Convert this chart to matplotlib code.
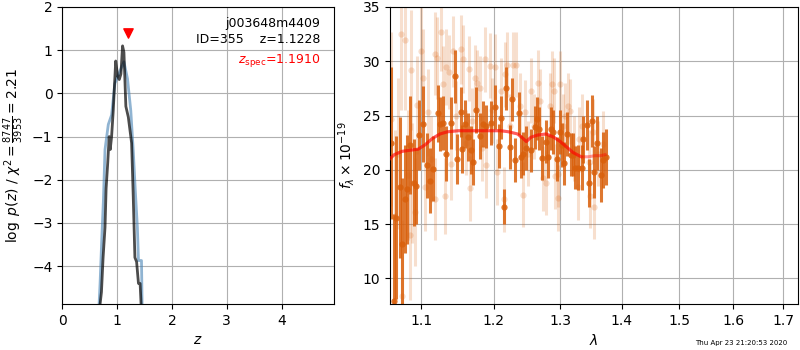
import numpy as np
import matplotlib
matplotlib.use("Agg")
import matplotlib.pyplot as plt
from matplotlib.ticker import NullLocator, FixedLocator, FixedFormatter

# redshift probability curves
z_fine = [0.65, 0.69, 0.715, 0.745, 0.78, 0.80, 0.83, 0.856, 0.875, 0.90, 0.93, 0.975,
          1.01, 1.04, 1.07, 1.10, 1.125, 1.16, 1.205, 1.265, 1.295, 1.325, 1.356,
          1.39, 1.42, 1.44, 1.46]
logp_fine = [-6.0, -4.88, -4.6, -3.8, -3.1, -2.2, -1.6, -1.0, -1.3, -1.0, -0.4, 0.75,
             0.40, 0.32, 0.45, 1.10, 0.95, -0.30, -0.55, -1.15, -2.4, -3.8, -3.9,
             -4.4, -4.4, -4.95, -6.0]
z_coarse = [0.66, 0.69, 0.72, 0.75, 0.78, 0.84, 0.90, 0.96, 1.02, 1.08, 1.125, 1.19,
            1.25, 1.295, 1.33, 1.37, 1.39, 1.445, 1.46]
logp_coarse = [-5.2, -4.4, -3.4, -2.5, -1.3, -0.72, -0.5, 0.23, 0.42, 0.60, 0.73, 0.34,
               -0.40, -1.33, -2.2, -3.1, -3.87, -3.87, -5.2]

obj_root = "j003648m4409"
obj_id = 355
z_best = 1.1228
z_spec = 1.1910
chi2_num, chi2_den = 8747, 3953

# 1D spectrum, first set
wave_a = [1.0607, 1.0645, 1.0675, 1.0718, 1.0748, 1.0791, 1.0817, 1.0852, 1.0904, 1.0934,
          1.0965, 1.1022, 1.1079, 1.1116, 1.1156, 1.1223, 1.1254, 1.1291, 1.1335, 1.1403,
          1.1451, 1.1486, 1.1533, 1.1558, 1.1597, 1.1635, 1.1673, 1.1705, 1.1752, 1.1800,
          1.1847, 1.1894, 1.1966, 1.2024, 1.2073, 1.2111, 1.2150, 1.2183, 1.2234, 1.2268,
          1.2317, 1.2366, 1.2396, 1.2431, 1.2476, 1.2556, 1.2607, 1.2637, 1.2672, 1.2723,
          1.2775, 1.2815, 1.2857, 1.2892, 1.2945, 1.2997, 1.3033, 1.3064, 1.3102, 1.3169,
          1.3201, 1.3233, 1.3286, 1.3340, 1.3366, 1.3420, 1.3457, 1.3511, 1.3544, 1.3593,
          1.3649, 1.3692, 1.3731]
flux_a = [22.5, 7.9, 15.6, 18.4, 13.2, 17.3, 18.2, 22.3, 18.8, 18.5,
          23.2, 24.2, 20.4, 19.0, 20.1, 25.2, 24.2, 24.3, 21.5, 24.3,
          28.6, 21.0, 25.3, 21.9, 24.2, 23.0, 21.8, 20.7, 25.5, 23.1,
          24.2, 24.0, 24.3, 25.8, 22.2, 24.8, 16.6, 27.5, 22.1, 26.5,
          20.9, 25.2, 21.2, 21.5, 22.0, 21.8, 23.9, 24.7, 23.8, 21.1,
          22.6, 21.2, 23.8, 23.5, 21.0, 23.5, 22.3, 20.6, 23.3, 21.4,
          21.4, 20.2, 20.2, 20.2, 22.8, 24.1, 18.8, 24.5, 19.8, 22.5,
          19.5, 20.9, 21.2]
err_a = [7.0, 8.0, 7.5, 6.5, 6.0, 5.0, 5.0, 4.5, 4.0, 3.5,
         3.2, 3.5, 3.0, 3.0, 3.0, 2.6, 2.5, 2.5, 2.5, 2.4,
         2.4, 2.3, 2.3, 2.2, 2.2, 2.2, 2.2, 2.1, 2.1, 2.1,
         2.1, 2.0, 2.0, 2.0, 2.0, 2.0, 1.6, 2.0, 2.0, 2.0,
         2.0, 2.0, 2.0, 2.0, 2.0, 2.0, 2.0, 2.0, 2.0, 2.0,
         2.0, 2.0, 2.0, 2.0, 2.0, 2.0, 2.0, 2.0, 2.0, 2.0,
         2.0, 2.0, 2.1, 2.1, 2.2, 2.3, 2.2, 2.4, 2.4, 2.5,
         2.5, 2.6, 2.6]

# 1D spectrum, second set
wave_b = [1.0611, 1.0658, 1.0697, 1.0731, 1.0748, 1.0791, 1.0826, 1.0848, 1.0869, 1.0878,
          1.0913, 1.0943, 1.1000, 1.1022, 1.1053, 1.1089, 1.1129, 1.1178, 1.1186, 1.1213,
          1.1259, 1.1291, 1.1322, 1.1331, 1.1372, 1.1400, 1.1427, 1.1468, 1.1533, 1.1565,
          1.1607, 1.1645, 1.1659, 1.1691, 1.1738, 1.1766, 1.1800, 1.1833, 1.1880, 1.1890,
          1.1943, 1.1976, 1.2015, 1.2048, 1.2111, 1.2150, 1.2169, 1.2198, 1.2238, 1.2283,
          1.2331, 1.2382, 1.2431, 1.2466, 1.2506, 1.2556, 1.2596, 1.2662, 1.2688, 1.2739,
          1.2775, 1.2841, 1.2877, 1.2908, 1.2923, 1.2960, 1.2969, 1.2997, 1.3044, 1.3075,
          1.3117, 1.3154, 1.3217, 1.3276, 1.3302, 1.3345, 1.3457, 1.3474, 1.3522, 1.3544,
          1.3604, 1.3687]
flux_b = [24.7, 15.7, 21.5, 32.5, 8.4, 32.0, 19.5, 14.0, 29.2, 18.8,
          16.1, 26.0, 30.9, 28.5, 18.4, 25.3, 21.0, 17.3, 30.7, 30.3,
          32.7, 27.9, 17.6, 29.5, 29.0, 20.5, 30.9, 25.0, 31.1, 30.2,
          22.5, 29.3, 18.3, 24.5, 28.5, 28.0, 27.5, 22.0, 30.2, 20.4,
          29.6, 25.5, 29.5, 19.8, 27.3, 17.3, 28.8, 29.7, 24.0, 29.7,
          29.7, 25.9, 17.7, 25.3, 21.5, 27.3, 24.0, 28.0, 26.3, 19.2,
          18.8, 25.9, 27.9, 27.3, 19.4, 17.4, 19.6, 27.9, 24.0, 25.0,
          25.9, 25.4, 22.0, 18.4, 22.8, 24.0, 20.7, 17.6, 23.5, 16.6,
          21.5, 22.4]
err_b = [8.0, 8.0, 7.0, 7.0, 7.0, 6.5, 6.0, 6.0, 5.5, 5.5,
         5.0, 4.5, 4.5, 4.5, 4.0, 4.0, 4.0, 3.8, 3.8, 3.8,
         3.6, 3.5, 3.5, 3.5, 3.4, 3.3, 3.3, 3.2, 3.2, 3.1,
         3.0, 3.0, 3.0, 3.0, 3.0, 3.0, 3.0, 3.0, 3.0, 3.0,
         3.0, 3.0, 3.0, 3.0, 3.0, 3.0, 3.0, 3.0, 3.0, 3.0,
         3.0, 3.0, 3.0, 3.0, 3.0, 3.0, 3.0, 3.0, 3.0, 3.0,
         3.0, 3.0, 3.0, 3.0, 3.0, 3.0, 3.0, 3.0, 3.0, 3.0,
         3.0, 3.0, 3.0, 3.0, 3.0, 3.0, 3.0, 3.0, 3.0, 3.0,
         3.0, 3.0]

# best-fit model traces
wave_model_a = [1.059, 1.065, 1.075, 1.085, 1.096, 1.105, 1.115, 1.125, 1.135, 1.150,
                1.170, 1.190, 1.210, 1.222, 1.235, 1.243, 1.248, 1.255, 1.265, 1.278,
                1.290, 1.300, 1.310, 1.320, 1.333, 1.345, 1.355, 1.365, 1.372]
flux_model_a = [21.0, 21.4, 21.7, 21.8, 21.9, 22.3, 22.9, 23.3, 23.5, 23.6,
                23.6, 23.6, 23.6, 23.5, 23.3, 22.9, 22.6, 23.0, 23.2, 23.3,
                23.0, 22.6, 22.1, 21.6, 21.2, 21.2, 21.3, 21.3, 21.4]
wave_model_b = [1.059, 1.065, 1.075, 1.085, 1.096, 1.105, 1.115, 1.125, 1.135, 1.150,
                1.170, 1.190, 1.210, 1.222, 1.235, 1.243, 1.248, 1.255, 1.265, 1.278,
                1.290, 1.300, 1.310, 1.320, 1.333]
flux_model_b = [21.0, 21.4, 21.7, 21.8, 21.9, 22.3, 22.9, 23.3, 23.5, 23.6,
                23.6, 23.6, 23.6, 23.5, 23.3, 22.9, 22.6, 23.0, 23.2, 23.3,
                23.0, 22.6, 22.1, 21.6, 21.2]

wave_ticks = [1.1, 1.2, 1.3, 1.4, 1.5, 1.6, 1.7]
timestamp = "Thu Apr 23 21:20:53 2020"

spec_color = "#d9600c"

fig = plt.figure(figsize=(8, 3.5), dpi=100)

# p(z)
ax = fig.add_axes([0.0778, 0.131, 0.34, 0.849])
ax.plot(z_coarse, logp_coarse, color="steelblue", alpha=0.6, lw=2)
ax.plot(z_fine, logp_fine, color="k", alpha=0.7, lw=2)
ax.scatter([z_spec], [1.4], marker="v", color="r", s=45, zorder=5)
ax.set_xlim(0, 4.96)
ax.set_ylim(-4.88, 2)
ax.set_xticks([0, 1, 2, 3, 4])
ax.set_yticks([-4, -3, -2, -1, 0, 1, 2])
ax.grid(True)
ax.set_xlabel(r"$z$")
ax.set_ylabel(r"$\log\ p(z)$" + " / " +
              r"$\chi^2=\frac{%d}{%d}=%.2f$" % (chi2_num, chi2_den, chi2_num / chi2_den))
ax.text(0.95, 0.965, "{0}\nID={1:<5d}  z={2:.4f}".format(obj_root, obj_id, z_best),
        ha="right", va="top", transform=ax.transAxes, fontsize=9, linespacing=1.3)
ax.text(0.95, 0.85, r"$z_\mathrm{spec}$" + "={0:.4f}".format(z_spec),
        ha="right", va="top", transform=ax.transAxes, fontsize=9, color="r")

# spectrum
ax2 = fig.add_axes([0.4875, 0.131, 0.51, 0.849])
ax2.errorbar(wave_b, flux_b, yerr=err_b, fmt="o", color=spec_color, alpha=0.2,
             markersize=4.5, elinewidth=2.2, capsize=0, markeredgewidth=0)
ax2.errorbar(wave_a, flux_a, yerr=err_a, fmt="o", color=spec_color, alpha=0.85,
             markersize=4.5, elinewidth=2.2, capsize=0, markeredgewidth=0)
ax2.plot(wave_model_a, flux_model_a, color="r", alpha=0.4, lw=2.2, zorder=10)
ax2.plot(wave_model_b, flux_model_b, color="r", alpha=0.4, lw=2.2, zorder=10)
ax2.set_xscale("log")
ax2.set_xlim(1.0594, 1.730)
ax2.set_ylim(7.62, 35)
ax2.xaxis.set_major_locator(FixedLocator(wave_ticks))
ax2.xaxis.set_major_formatter(FixedFormatter(["%.1f" % w for w in wave_ticks]))
ax2.xaxis.set_minor_locator(NullLocator())
ax2.set_yticks([10, 15, 20, 25, 30, 35])
ax2.grid(True)
ax2.set_xlabel(r"$\lambda$")
ax2.set_ylabel(r"$f_\lambda\times 10^{-19}$")

fig.text(0.984, 0.012, timestamp, ha="right", va="bottom", fontsize=5)

fig.savefig("out.png", dpi=100)
